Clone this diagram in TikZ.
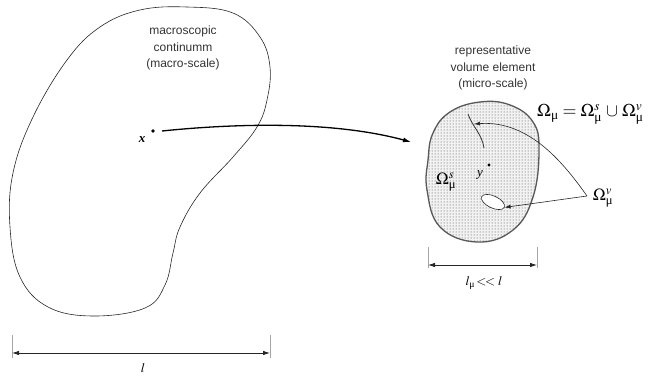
\documentclass[tikz,border=0pt]{standalone}
\usepackage{mathptmx}
\usepackage{amsmath}
\usepackage{fontspec}
\setmainfont{Liberation Sans}
\newfontfamily\tms{Liberation Serif}
\newcommand{\umu}{\text{\tms μ}}
\usetikzlibrary{arrows.meta,patterns,shapes.geometric}
\tikzset{
  lbl/.style={font=\fontsize{12}{16.5}\selectfont, align=center, text=black!80, inner sep=0pt},
  dimtick/.style={draw=gray!70, line width=0.8pt},
  dimline/.style={draw=black!85, line width=0.8pt, {Latex[length=7pt,width=4.5pt]}-{Latex[length=7pt,width=4.5pt]}},
  ptr/.style={draw=black!85, line width=0.6pt, -{Latex[length=6pt,width=4pt]}},
  omg/.style={font=\fontsize{17}{17}\selectfont, inner sep=0pt}
}
\begin{document}
\begin{tikzpicture}[x=1pt,y=-1pt]
\useasboundingbox (0,0) rectangle (655,379);
% macroscopic body
\draw[line width=0.6pt, black!85] plot[smooth cycle, tension=0.65] coordinates {
 (100,27) (140,10) (187,7) (233,13) (260,37) (270,67) (267,100) (257,127)
 (233,157) (200,193) (180,227) (173,253) (165,285) (145,308) (93,316)
 (48,307) (20,277) (10,227) (13,173) (33,117) (67,60)};
\node[lbl] (macro) at (183,48) {macroscopic\\continumm\\(macro-scale)};
\node[circle, fill, inner sep=1.3pt] (xdot) at (153,131) {};
\node[inner sep=0pt, font=\fontsize{13}{13}\selectfont] (xlab) at (142,140) {\tms\bfseries\itshape x};
% RVE
\fill[gray!10] plot[smooth cycle, tension=0.7] coordinates {
 (433,133) (450,112) (480,102) (510,105) (533,122) (539,150) (533,197)
 (513,230) (477,242) (440,227) (427,190) (428,160)};
\fill[pattern=dots, pattern color=black!75] plot[smooth cycle, tension=0.7] coordinates {
 (433,133) (450,112) (480,102) (510,105) (533,122) (539,150) (533,197)
 (513,230) (477,242) (440,227) (427,190) (428,160)};
\draw[line width=1.3pt, black!65] plot[smooth cycle, tension=0.7] coordinates {
 (433,133) (450,112) (480,102) (510,105) (533,122) (539,150) (533,197)
 (513,230) (477,242) (440,227) (427,190) (428,160)};
\node[lbl] (rve) at (493,68) {representative\\volume element\\(micro-scale)};
% crack
\draw[line width=0.8pt, black!80] (468,114) .. controls (472,126) and (482,134) .. (484,148);
\coordinate (crk) at (474,124);
% hole
\node[draw=black!85, fill=white, ellipse, minimum width=25pt, minimum height=12pt, inner sep=0pt, rotate=-25, line width=0.6pt] (hole) at (493,202) {};
% point y
\node[circle, fill, inner sep=1.2pt] (ydot) at (489,165) {};
\node[inner sep=0pt, font=\fontsize{13}{13}\selectfont] (ylab) at (480,175) {\tms\itshape y};
\node[omg] (oms) at (446,182) {$\Omega^s_\umu$};
% mapping arrow
\coordinate (rvein) at (411,142);
\draw[line width=1.3pt, -{Latex[length=8pt,width=5pt]}] (xdot.east) ++(7,0) .. controls (230,124) and (330,120) .. (rvein);
% labels
\node[omg, anchor=west, font=\fontsize{18}{18}\selectfont] (eq) at (537,114) {$\Omega_\umu\;{=}\;\Omega^s_\umu\;{\cup}\;\Omega^v_\umu$};
\node[omg] (omv) at (603,198) {$\Omega^v_\umu$};
\coordinate (vstart) at (587,196);
\draw[ptr] (vstart) .. controls (565,165) and (530,120) .. (crk);
\draw[ptr] (vstart) -- (hole.east);
% dimensions
\coordinate (d1l) at (12,353); \coordinate (d1r) at (270,353);
\draw[dimtick] (12,335) -- (12,358);
\draw[dimtick] (270,335) -- (270,358);
\draw[dimline] (d1l) -- (d1r);
\node[inner sep=0pt, font=\fontsize{13}{13}\selectfont] (llab) at (143,368) {$l$};
\coordinate (d2l) at (428,265); \coordinate (d2r) at (537,265);
\draw[dimtick] (428,247) -- (428,268);
\draw[dimtick] (537,247) -- (537,268);
\draw[dimline] (d2l) -- (d2r);
\node[inner sep=0pt, font=\fontsize{13}{13}\selectfont] (lmlab) at (484,283) {$l_\umu\!<\!< l$};
\end{tikzpicture}
\end{document}
